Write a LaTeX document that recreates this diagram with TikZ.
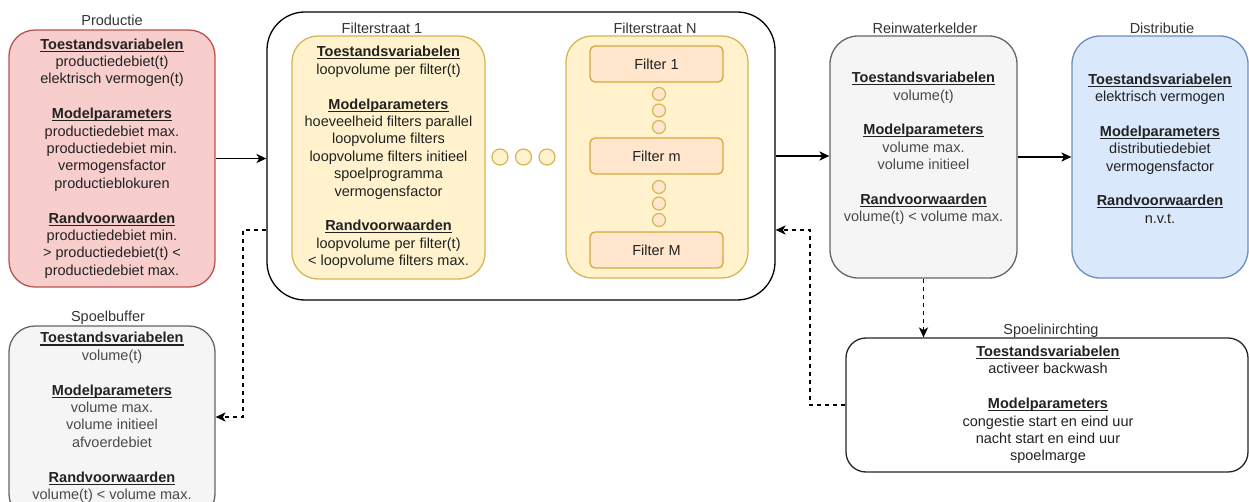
\documentclass[tikz,border=0pt]{standalone}
\usepackage{fontspec}
\setmainfont{Liberation Sans}
\usetikzlibrary{arrows.meta,calc}
\newsavebox{\hdbox}
\newcommand{\hd}[1]{\sbox{\hdbox}{\textbf{#1}}\rlap{\usebox{\hdbox}}\rule[-1.3pt]{\wd\hdbox}{0.55pt}}
\definecolor{pinkF}{HTML}{F8CECC}
\definecolor{pinkD}{HTML}{B85450}
\definecolor{yelF}{HTML}{FFF2CC}
\definecolor{yelD}{HTML}{D6B656}
\definecolor{orgF}{HTML}{FFE6CC}
\definecolor{orgD}{HTML}{D6A83A}
\definecolor{grayF}{HTML}{F5F5F5}
\definecolor{grayD}{HTML}{666666}
\definecolor{bluF}{HTML}{DAE8FC}
\definecolor{bluD}{HTML}{6C8EBF}
\definecolor{txtc}{HTML}{222222}
\definecolor{graytxt}{HTML}{4A4A4A}
\definecolor{titlec}{HTML}{333333}
\tikzset{
  base/.style={font=\fontsize{7.25}{8.7}\selectfont},
  title/.style={base, text=titlec, inner sep=0pt},
  body/.style={base, align=center, inner sep=0pt, text=txtc},
  blk/.style={draw, line width=0.65pt, inner sep=0pt},
  conn/.style={line width=0.65pt, draw=black, -{Stealth[length=5pt,width=4.6pt,inset=1.4pt]}},
  dconn/.style={conn, dash pattern=on 2pt off 2pt},
  hdot/.style={circle, draw=yelD, fill=yelF, line width=0.6pt, minimum size=8pt, inner sep=0pt},
  vdot/.style={circle, draw=yelD, fill=orgF, line width=0.6pt, minimum size=6.5pt, inner sep=0pt},
  filt/.style={blk, base, text=txtc, draw=orgD, fill=orgF, rounded corners=2.5pt, minimum width=66.5pt, minimum height=18pt},
}
\begin{document}
\begin{tikzpicture}[x=0.5pt,y=-0.5pt]
\path[use as bounding box] (0,0) rectangle (1249,502);
\clip (0,0) rectangle (1249,502);
\fill[white] (0,0) rectangle (1249,502);

% Productie
\node[blk, fill=pinkF, draw=pinkD, rounded corners=13pt, minimum width=103pt, minimum height=128.5pt] (prod) at (112,158.5) {};
\node[title] (prodt) at (112,20) {Productie};
\node[body] (prodx) at (112,158.5) {\hd{Toestandsvariabelen}\\ productiedebiet(t)\\ elektrisch vermogen(t)\\[8.7pt]
\hd{Modelparameters}\\ productiedebiet max.\\ productiedebiet min.\\ vermogensfactor\\ productieblokuren\\[8.7pt]
\hd{Randvoorwaarden}\\ productiedebiet min.\\ > productiedebiet(t) <\\ productiedebiet max.};

% Filterstraat outer
\node[blk, draw=black, fill=white, rounded corners=19pt, minimum width=254pt, minimum height=144pt] (outer) at (521,156) {};

% Filterstraat 1
\node[blk, fill=yelF, draw=yelD, rounded corners=13pt, minimum width=96.5pt, minimum height=121.5pt] (fs1) at (388.5,157.5) {};
\node[title] (fs1t) at (382,28) {Filterstraat 1};
\node[body] (fs1x) at (388.5,157.5) {\hd{Toestandsvariabelen}\\ loopvolume per filter(t)\\[8.7pt]
\hd{Modelparameters}\\ hoeveelheid filters parallel\\ loopvolume filters\\ loopvolume filters initieel\\ spoelprogramma\\ vermogensfactor\\[8.7pt]
\hd{Randvoorwaarden}\\ loopvolume per filter(t)\\ < loopvolume filters max.};

% dots
\node[hdot] (d1) at (500,157) {};
\node[hdot] (d2) at (523.5,157) {};
\node[hdot] (d3) at (547,157) {};

% Filterstraat N
\node[blk, fill=yelF, draw=yelD, rounded corners=13pt, minimum width=91pt, minimum height=121pt] (fsn) at (657,157) {};
\node[title] (fsnt) at (655,28) {Filterstraat N};
\node[filt] (f1) at (656.5,64) {Filter 1};
\node[filt] (fm) at (656.5,156) {Filter m};
\node[filt] (fM) at (656.5,250) {Filter M};
\node[vdot] (v1) at (659,94) {};
\node[vdot] (v2) at (659,110.5) {};
\node[vdot] (v3) at (659,127) {};
\node[vdot] (v4) at (659,187) {};
\node[vdot] (v5) at (659,203.5) {};
\node[vdot] (v6) at (659,220) {};

% Reinwaterkelder
\node[blk, fill=grayF, draw=grayD, rounded corners=14pt, minimum width=93.5pt, minimum height=121pt] (rwk) at (923.5,157) {};
\node[title] (rwkt) at (925,28) {Reinwaterkelder};
\node[body, text=graytxt] (rwkx) at (923.5,148.5) {\textcolor{txtc}{\hd{Toestandsvariabelen}}\\ volume(t)\\[8.7pt]
\textcolor{txtc}{\hd{Modelparameters}}\\ volume max.\\ volume initieel\\[8.7pt]
\textcolor{txtc}{\hd{Randvoorwaarden}}\\ volume(t) < volume max.};

% Distributie
\node[blk, fill=bluF, draw=bluD, rounded corners=14pt, minimum width=88pt, minimum height=121pt] (dist) at (1160,157) {};
\node[title] (distt) at (1162,28) {Distributie};
\node[body] (distx) at (1160,148.5) {\hd{Toestandsvariabelen}\\ elektrisch vermogen\\[8.7pt]
\hd{Modelparameters}\\ distributiedebiet\\ vermogensfactor\\[8.7pt]
\hd{Randvoorwaarden}\\ n.v.t.};

% Spoelbuffer
\node[blk, fill=grayF, draw=grayD, rounded corners=13pt, minimum width=103pt, minimum height=97pt] (sbuf) at (112,423) {};
\node[title] (sbuft) at (108,318) {Spoelbuffer};
\node[body, text=graytxt] (sbufx) at (112,417.5) {\textcolor{txtc}{\hd{Toestandsvariabelen}}\\ volume(t)\\[8.7pt]
\textcolor{txtc}{\hd{Modelparameters}}\\ volume max.\\ volume initieel\\ afvoerdebiet\\[8.7pt]
\textcolor{txtc}{\hd{Randvoorwaarden}}\\ volume(t) < volume max.};

% Spoelinrichting
\node[blk, fill=white, draw=black!85, rounded corners=10pt, minimum width=201pt, minimum height=67pt] (spi) at (1047,405) {};
\node[title] (spit) at (1051,331) {Spoelinirchting};
\node[body] (spix) at (1048,405) {\hd{Toestandsvariabelen}\\ activeer backwash\\[8.7pt]
\hd{Modelparameters}\\ congestie start en eind uur\\ nacht start en eind uur\\ spoelmarge};

% connectors
\draw[conn] (prod.east) -- (prod.east -| outer.west);
\draw[conn] (outer.east) -- (outer.east -| rwk.west);
\draw[conn] (rwk.east) -- (rwk.east -| dist.west);
\draw[dconn] (rwk.south) -- (rwk.south |- spi.north);
\coordinate (c1) at (810,230);
\draw[dconn] (spi.west) -| (c1) -- (c1 -| outer.east);
\coordinate (c2) at (243,230);
\coordinate (c3) at (243,417);
\draw[dconn] (c2 -| outer.west) -- (c2) -- (c3) -- (c3 -| sbuf.east);
\end{tikzpicture}
\end{document}
